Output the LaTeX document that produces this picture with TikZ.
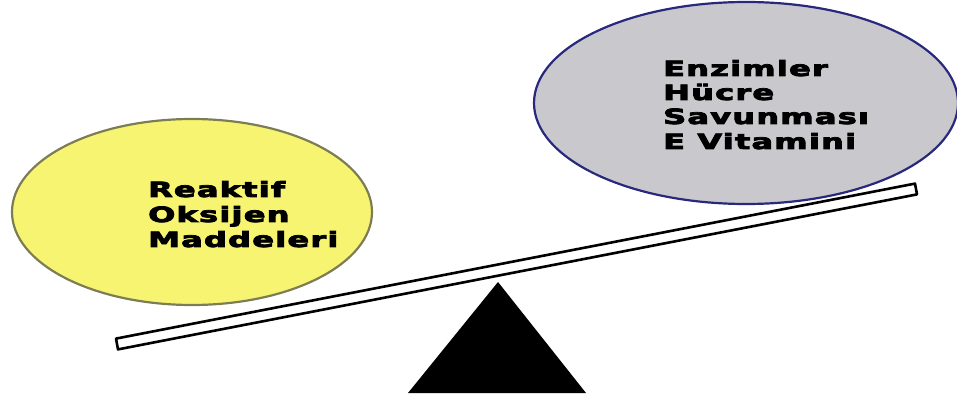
\documentclass[tikz,border=0pt]{standalone}
\usepackage{fontspec}
\usepackage{graphicx}
\newfontfamily\labelfont[LetterSpace=4,FakeBold=3.5]{DejaVu Sans Bold}
\definecolor{pansun}{RGB}{246,244,112}
\definecolor{panedge}{RGB}{125,125,85}
\definecolor{pangray}{RGB}{201,201,205}
\definecolor{panblue}{RGB}{40,40,125}
\tikzset{
  pan/.style={line width=2.2pt},
  lbl/.style={anchor=base west, inner sep=0pt, font=\labelfont\fontsize{21}{25}\selectfont},
  beam/.style={draw=black, fill=white, line width=2.6pt, line join=round}
}
\newcommand{\wide}[1]{\scalebox{1.52}[1]{#1}}
\begin{document}
\begin{tikzpicture}[x=1pt,y=-1pt]
\useasboundingbox (0,0) rectangle (957,395);
% the two pans
\draw[pan, draw=panedge, fill=pansun] (192,212) ellipse [x radius=180, y radius=93];
\draw[pan, draw=panblue, fill=pangray] (746,103) ellipse [x radius=212, y radius=101];
% the beam of the balance
\draw[beam] (116,338.6) -- (915,183.6) -- (917,194.4) -- (118,349.4) -- cycle;
% the pivot
\fill[black] (498,282) -- (586,393) -- (408,393) -- cycle;
% texts
\node[lbl] (r1) at (148,197) {\wide{Reaktif}};
\node[lbl] (r2) at (148,222) {\wide{Oksijen}};
\node[lbl] (r3) at (148,247) {\wide{Maddeleri}};
\node[lbl] (g1) at (663,76) {\wide{Enzimler}};
\node[lbl] (g2) at (663,100) {\wide{Hücre}};
\node[lbl] (g3) at (663,124) {\wide{Savunması}};
\node[lbl] (g4) at (663,149) {\wide{E Vitamini}};
\end{tikzpicture}
\end{document}
